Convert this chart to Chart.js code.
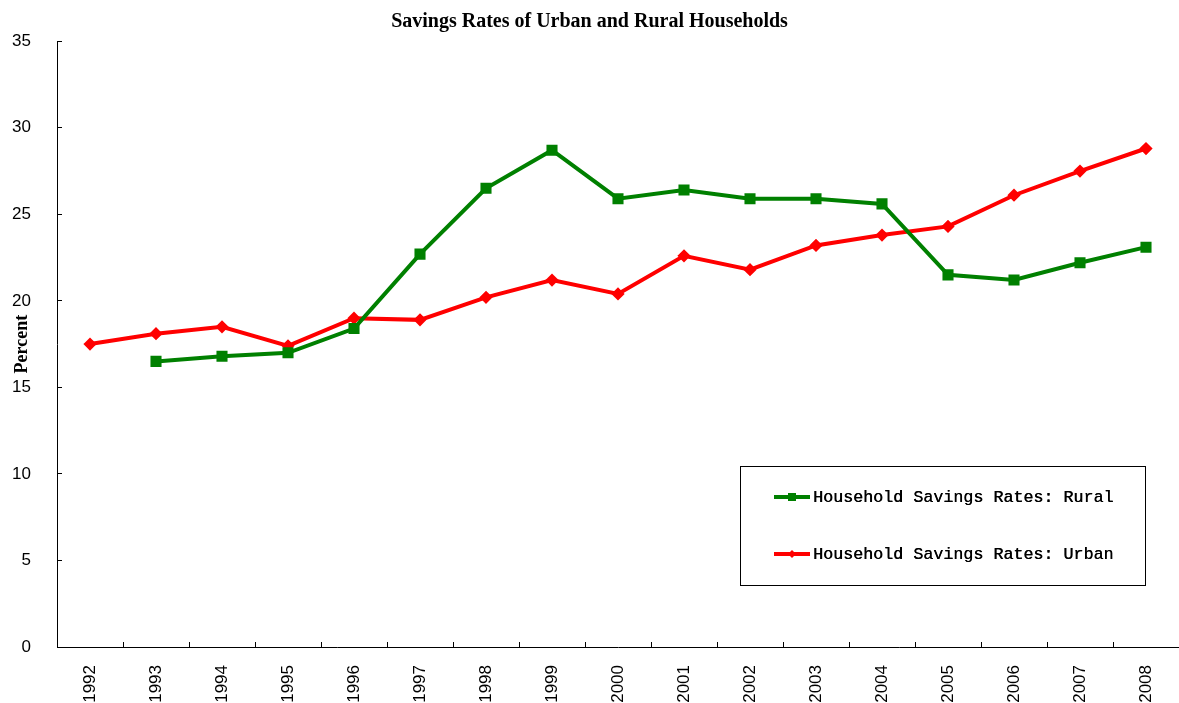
<!DOCTYPE html>
<html lang="en">
  <head>
    <meta charset="UTF-8" />
    <title>Savings Rates of Urban and Rural Households</title>
    <script src="https://cdn.jsdelivr.net/npm/chart.js@4.4.1/dist/chart.umd.min.js"></script>
    <style>
      html, body { margin: 0; padding: 0; background: #fff; }
      #wrap { width: 1179px; height: 703px; }
    </style>
  </head>
  <body>
    <div id="wrap"><canvas id="savings-chart"></canvas></div>

    <script>
      // data
      const years = ["1992", "1993", "1994", "1995", "1996", "1997", "1998", "1999", "2000",
        "2001", "2002", "2003", "2004", "2005", "2006", "2007", "2008"];
      const rural = [null, 16.5, 16.8, 17.0, 18.4, 22.7, 26.5, 28.7, 25.9,
        26.4, 25.9, 25.9, 25.6, 21.5, 21.2, 22.2, 23.1];
      const urban = [17.5, 18.1, 18.5, 17.4, 19.0, 18.9, 20.2, 21.2, 20.4,
        22.6, 21.8, 23.2, 23.8, 24.3, 26.1, 27.5, 28.8];
      const yTicks = [0, 5, 10, 15, 20, 25, 30, 35];

      // legend drawn inside the plot, boxed
      const boxLegend = {
        id: "boxLegend",
        afterDraw(chart) {
          const ctx = chart.ctx;
          ctx.save();
          ctx.strokeStyle = "#000";
          ctx.lineWidth = 1;
          ctx.strokeRect(740.5, 466.5, 405, 119);
          ctx.font = "16.7px 'Liberation Mono', monospace";
          ctx.textBaseline = "middle";
          const rows = [497, 554];
          chart.data.datasets.forEach((ds, i) => {
            const y = rows[i];
            ctx.strokeStyle = ds.borderColor;
            ctx.lineWidth = 4;
            ctx.beginPath();
            ctx.moveTo(774, y);
            ctx.lineTo(810, y);
            ctx.stroke();
            ctx.fillStyle = ds.borderColor;
            if (ds.pointStyle === "rect") {
              ctx.fillRect(788, y - 4, 8, 8);
            } else {
              ctx.beginPath();
              ctx.moveTo(792, y - 4);
              ctx.lineTo(796, y);
              ctx.lineTo(792, y + 4);
              ctx.lineTo(788, y);
              ctx.closePath();
              ctx.fill();
            }
            ctx.fillStyle = "#000";
            ctx.fillText(ds.label, 813, y + 1);
            ctx.fillText(ds.label, 813.4, y + 1);
          });
          ctx.restore();
        },
      };

      const ctx = document.getElementById("savings-chart").getContext("2d");
      new Chart(ctx, {
        type: "line",
        data: {
          labels: years,
          datasets: [
            {
              label: "Household Savings Rates: Rural",
              data: rural,
              borderColor: "#008000",
              backgroundColor: "#008000",
              borderWidth: 4,
              pointStyle: "rect",
              pointRadius: 5,
              pointHoverRadius: 5,
              tension: 0,
              spanGaps: false,
            },
            {
              label: "Household Savings Rates: Urban",
              data: urban,
              borderColor: "#ff0000",
              backgroundColor: "#ff0000",
              borderWidth: 4,
              pointStyle: "rectRot",
              pointRadius: 3.8,
              pointHoverRadius: 3.8,
              tension: 0,
            },
          ],
        },
        plugins: [boxLegend],
        options: {
          responsive: true,
          maintainAspectRatio: false,
          animation: false,
          events: [],
          layout: { autoPadding: false, padding: 0 },
          plugins: {
            legend: { display: false },
            tooltip: { enabled: false },
            title: {
              display: true,
              text: "Savings Rates of Urban and Rural Households",
              color: "#000",
              font: { family: "'Liberation Serif', 'Times New Roman', serif", size: 20, weight: "bold" },
              padding: { top: 6, bottom: 7 },
            },
          },
          scales: {
            x: {
              offset: true,
              grid: {
                offset: true,
                drawOnChartArea: false,
                tickLength: -5,
                color: "#000",
              },
              border: { display: true, color: "#000", width: 1 },
              ticks: {
                color: "#000",
                font: { family: "'Liberation Sans', Arial, sans-serif", size: 17 },
                maxRotation: 90,
                minRotation: 90,
                padding: 23,
                autoSkip: false,
              },
              afterFit(scale) {
                scale.height = 56;
                scale.paddingLeft = 0;
                scale.paddingRight = 0;
              },
            },
            y: {
              min: 0,
              max: 35,
              afterBuildTicks(scale) {
                scale.ticks = yTicks.map((v) => ({ value: v }));
              },
              grid: {
                drawOnChartArea: false,
                tickLength: -5,
                color: "#000",
              },
              border: { display: true, color: "#000", width: 1 },
              ticks: {
                color: "#000",
                font: { family: "'Liberation Sans', Arial, sans-serif", size: 17 },
                padding: 31,
              },
              title: {
                display: true,
                text: "Percent",
                color: "#000",
                font: { family: "'Liberation Serif', 'Times New Roman', serif", size: 18, weight: "bold" },
                padding: { top: 12, bottom: 0 },
              },
              afterFit(scale) {
                scale.width = 57;
              },
            },
          },
        },
      });
    </script>
  </body>
</html>
